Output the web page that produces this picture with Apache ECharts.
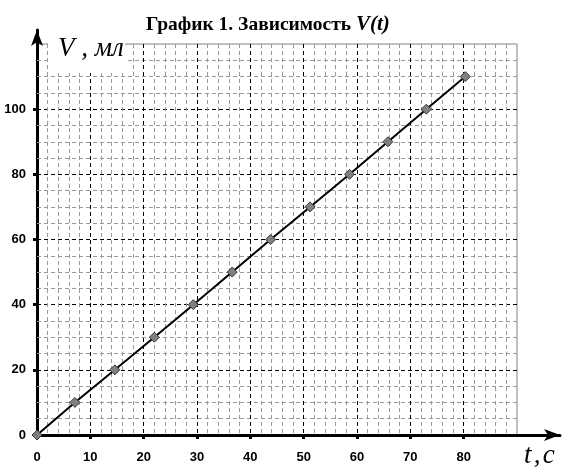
<!DOCTYPE html>
<html><head><meta charset="utf-8">
<script src="https://cdn.jsdelivr.net/npm/echarts@6/dist/echarts.min.js"></script>
<style>html,body{margin:0;padding:0;background:#fff}#c{width:572px;height:473px}</style>
</head><body><div id="c"></div>
<script>
// data
const timeSec   = [0, 7.1, 14.6, 22.0, 29.3, 36.6, 43.8, 51.2, 58.6, 65.8, 73.0, 80.3];
const volumeMl  = [0, 10, 20, 30, 40, 50, 60, 70, 80, 90, 100, 110];
// axes
const xRange = [0, 90];   const xStep = 10;  const xMinorSplits = 5;
const yRange = [0, 120];  const yStep = 20;  const yMinorSplits = 4;
const titleMain = 'График 1. Зависимость ';
const titleFunc = 'V(t)';
const yName = 'V , мл';
const xName = 't\u200A,\u200Ac';

const serif = "'Times New Roman','Liberation Serif',serif";
const sans = "Arial,'Liberation Sans',sans-serif";

const chart = echarts.init(document.getElementById('c'), null, {renderer: 'canvas'});
const dashMajor = {color: '#000', width: 1, type: [4, 3]};
const dashMinor = {color: '#9a9a9a', width: 1, type: [4, 3]};

chart.setOption({
  animation: false,
  backgroundColor: '#fff',
  title: {
    text: '{a|' + titleMain + '}{b|' + titleFunc + '}',
    left: 141, top: 9,
    textStyle: {
      rich: {
        a: {fontFamily: serif, fontWeight: 'bold', fontSize: 19.5, color: '#000'},
        b: {fontFamily: serif, fontWeight: 'bold', fontStyle: 'italic', fontSize: 21, color: '#000'}
      }
    }
  },
  grid: [
    {left: 37, right: 55, top: 44, bottom: 38, show: true, borderColor: '#808080', borderWidth: 1, backgroundColor: 'transparent'},
    {left: 37, right: 12, top: 30, bottom: 38, show: false}
  ],
  xAxis: [
    {
      type: 'value', gridIndex: 0, min: xRange[0], max: xRange[1], interval: xStep,
      axisLine: {show: false},
      axisTick: {show: true, length: 4, lineStyle: {color: '#000', width: 3}},
      axisLabel: {show: true, showMaxLabel: false, margin: 16, color: '#000', fontFamily: sans, fontWeight: 'bold', fontSize: 13},
      splitLine: {show: true, showMinLine: false, showMaxLine: false, lineStyle: dashMajor},
      minorTick: {show: false, splitNumber: xMinorSplits},
      minorSplitLine: {show: true, lineStyle: dashMinor},
      z: 2
    },
    {
      type: 'value', gridIndex: 1, min: 0, max: 1,
      axisLine: {show: true, onZero: false, symbol: ['none', 'arrow'], symbolSize: [9, 16], lineStyle: {color: '#000', width: 3}},
      axisTick: {show: false}, axisLabel: {show: false}, splitLine: {show: false}
    }
  ],
  yAxis: [
    {
      type: 'value', gridIndex: 0, min: yRange[0], max: yRange[1], interval: yStep,
      axisLine: {show: false},
      axisTick: {show: true, length: 4, lineStyle: {color: '#000', width: 3}},
      axisLabel: {show: true, showMaxLabel: false, margin: 11, color: '#000', fontFamily: sans, fontWeight: 'bold', fontSize: 13},
      splitLine: {show: true, showMinLine: false, showMaxLine: false, lineStyle: dashMajor},
      minorTick: {show: false, splitNumber: yMinorSplits},
      minorSplitLine: {show: true, lineStyle: dashMinor},
      z: 2
    },
    {
      type: 'value', gridIndex: 1, min: 0, max: 1,
      axisLine: {show: true, onZero: false, symbol: ['none', 'arrow'], symbolSize: [9, 16], lineStyle: {color: '#000', width: 3}},
      axisTick: {show: false}, axisLabel: {show: false}, splitLine: {show: false}
    }
  ],
  graphic: [
    {type: 'rect', left: 48, top: 36, z: 50, shape: {width: 77, height: 37}, style: {fill: '#fff'}},
    {type: 'text', left: 58, top: 35, z: 51, style: {text: yName, font: 'italic 27px ' + serif, fill: '#000'}},
    {type: 'text', left: 524, top: 442, z: 51, style: {text: xName, font: 'italic 27px ' + serif, fill: '#000'}}
  ],
  series: [{
    type: 'line',
    xAxisIndex: 0, yAxisIndex: 0,
    data: timeSec.map((t, i) => [t, volumeMl[i]]),
    lineStyle: {color: '#000', width: 2},
    symbol: 'diamond', symbolSize: 10,
    itemStyle: {color: '#808080', borderColor: '#3a3a3a', borderWidth: 1},
    z: 5
  }]
});
</script></body></html>
